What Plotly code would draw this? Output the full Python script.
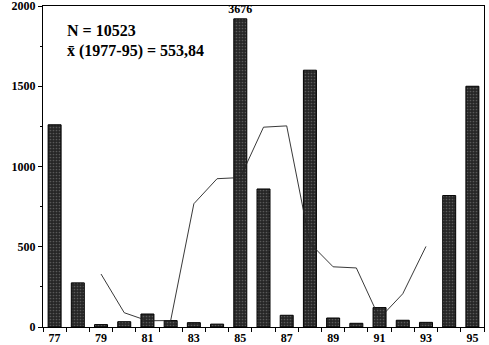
import plotly.graph_objects as go

# Yearly counts 1977-1995
years = list(range(77, 96))
counts = [1260, 275, 15, 33, 81, 40, 27, 18, 3676, 860, 73, 1600, 56, 23, 121, 42, 29, 819, 1500]

# Trend line (running mean), 1979-1993
trend_years = list(range(79, 94))
trend_values = [330, 89, 39, 40, 768, 924, 931, 1245, 1253, 522, 375, 368, 54, 207, 502]

# Bars taller than this are cut off and labelled with their true value
CAP = 1920
Y_MAX = 2000

x_tick_labels = [str(y) for y in range(77, 96, 2)]

serif = "Liberation Serif, Times New Roman, serif"

bar_heights = [min(v, CAP) for v in counts]
bar_text = [str(v) if v > CAP else "" for v in counts]

fig = go.Figure()

fig.add_trace(go.Scatter(
    x=trend_years, y=trend_values, mode="lines",
    line=dict(color="#222222", width=0.9),
    hoverinfo="skip", showlegend=False,
))

fig.add_trace(go.Bar(
    x=years, y=bar_heights, width=0.56,
    marker=dict(
        color="#303030",
        line=dict(color="#000000", width=1),
        pattern=dict(shape=".", fgcolor="#8c8c8c", bgcolor="#262626",
                     size=3, solidity=0.25, fillmode="overlay"),
    ),
    text=bar_text, textposition="outside", cliponaxis=False,
    constraintext="none",
    textfont=dict(family=serif, size=12, color="#000000", weight="bold"),
    showlegend=False,
))

fig.add_annotation(
    x=0.05, y=0.925, xref="paper", yref="paper", xanchor="left", yanchor="middle",
    text="N = 10523", showarrow=False,
    font=dict(family=serif, size=16, color="#000000", weight="bold"),
)
fig.add_annotation(
    x=0.05, y=0.86, xref="paper", yref="paper", xanchor="left", yanchor="middle",
    text="x\u0304 (1977-95) = 553,84", showarrow=False,
    font=dict(family=serif, size=16, color="#000000", weight="bold"),
)

fig.update_layout(
    width=489, height=345,
    margin=dict(l=43, r=5, t=6, b=18, autoexpand=False),
    paper_bgcolor="white", plot_bgcolor="white",
    xaxis=dict(
        range=[76.5, 95.5], automargin=False,
        tickvals=list(range(77, 96, 2)), ticktext=x_tick_labels,
        ticks="", ticklabelstandoff=0, showgrid=False, zeroline=False,
        showline=True, linecolor="#000000", linewidth=1, mirror=True,
        tickfont=dict(family=serif, size=12, color="#000000", weight="bold"),
        minor=dict(tick0=76.5, dtick=1, ticks="outside", ticklen=4,
                   tickcolor="#000000", showgrid=False),
    ),
    yaxis=dict(
        range=[0, Y_MAX], automargin=False,
        tickvals=[0, 500, 1000, 1500, 2000],
        ticks="outside", ticklen=4, tickcolor="#000000",
        ticklabeloverflow="allow",
        showgrid=False, zeroline=False,
        showline=True, linecolor="#000000", linewidth=1, mirror=True,
        tickfont=dict(family=serif, size=12, color="#000000", weight="bold"),
        minor=dict(dtick=250, ticks="outside", ticklen=2, tickcolor="#000000", showgrid=False),
    ),
)

fig.write_html("out.html")
